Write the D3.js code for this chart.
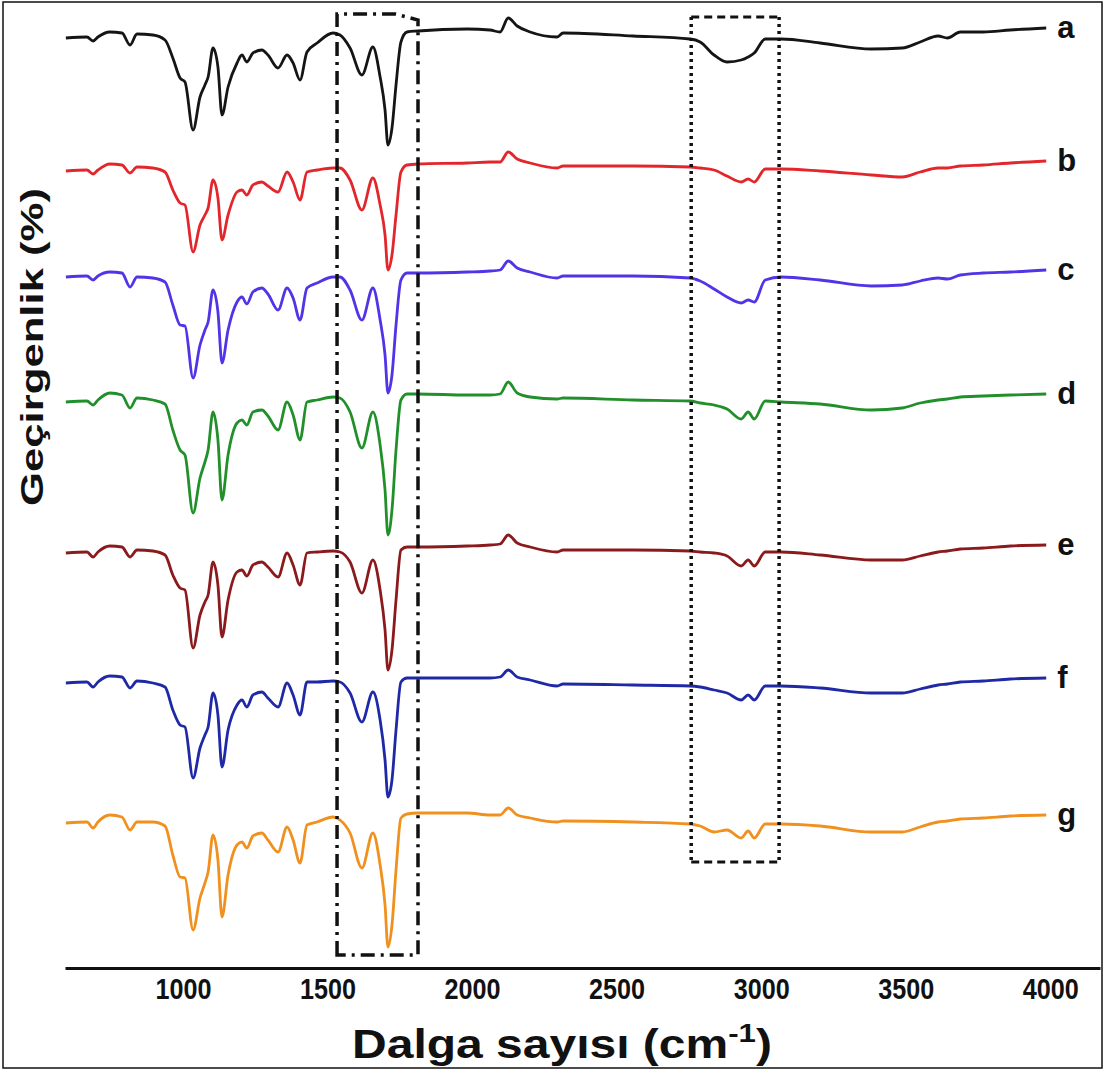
<!DOCTYPE html>
<html>
<head>
<meta charset="utf-8">
<script src="https://cdn.jsdelivr.net/npm/d3@7/dist/d3.min.js"></script>
<style>
  body { margin: 0; background: #fff; }
  svg { display: block; }
</style>
</head>
<body>
<div id="chart"></div>
<script>
// Wavenumbers (cm-1) shared by every spectrum
var waves = [595, 668, 689, 706, 747, 789, 817, 841, 896, 938,
  965, 990, 1007, 1035, 1059, 1076, 1087, 1104, 1121, 1135,
  1156, 1187, 1204, 1221, 1242, 1273, 1294, 1329, 1360, 1381,
  1405, 1429, 1464, 1519, 1543, 1578, 1619, 1657, 1682, 1699,
  1709, 1723, 1737, 1754, 1775, 1813, 1983, 2062, 2097, 2125,
  2156, 2201, 2294, 2315, 2557, 2754, 2789, 2837, 2882, 2931,
  2955, 2976, 3014, 3069, 3204, 3381, 3488, 3550, 3612, 3644,
  3689, 3768, 3862, 3986];

// Transmittance (stacked, arbitrary offset)
var seriesA = [96.2, 96.3, 95.9, 96.3, 96.8, 96.7, 95.5, 96.6, 96.5, 96.0,
  94.2, 92.2, 91.8, 87.0, 90.3, 91.5, 92.3, 95.2, 93.3, 88.5,
  91.3, 93.7, 94.5, 93.8, 94.7, 95.0, 94.5, 93.2, 94.5, 93.7,
  92.0, 94.8, 95.7, 96.7, 96.5, 95.2, 92.5, 95.3, 92.3, 89.0,
  85.5, 87.2, 91.5, 95.8, 96.8, 96.9, 97.1, 97.0, 96.8, 98.2,
  97.4, 96.8, 96.3, 96.7, 96.4, 96.1, 95.8, 94.5, 93.8, 94.0,
  94.3, 94.7, 96.1, 96.1, 95.7, 95.1, 95.2, 95.8, 96.4, 96.2,
  96.8, 96.8, 97.0, 97.2];
var seriesB = [82.9, 83.0, 82.6, 83.0, 83.6, 83.5, 82.7, 83.3, 83.2, 82.8,
  81.0, 79.7, 79.5, 74.8, 77.5, 78.5, 79.2, 82.0, 80.2, 76.0,
  78.5, 80.8, 81.0, 80.5, 81.5, 81.8, 81.4, 80.8, 82.8, 81.8,
  80.0, 82.8, 83.0, 83.2, 83.2, 82.0, 79.0, 82.2, 79.5, 76.5,
  73.0, 74.5, 78.5, 82.8, 83.5, 83.6, 83.7, 83.8, 83.8, 84.8,
  84.1, 83.7, 83.2, 83.4, 83.4, 83.3, 83.2, 83.0, 82.4, 81.8,
  82.1, 81.8, 83.1, 83.1, 82.9, 82.5, 82.3, 82.8, 83.2, 83.2,
  83.4, 83.5, 83.7, 83.9];
var seriesC = [72.3, 72.4, 72.0, 72.4, 72.8, 72.7, 71.3, 72.3, 72.2, 71.8,
  69.5, 67.5, 67.4, 62.2, 65.5, 67.0, 67.8, 71.0, 68.8, 63.7,
  67.0, 69.8, 70.3, 69.6, 70.8, 71.2, 70.6, 69.0, 71.2, 70.2,
  68.0, 71.2, 71.7, 72.3, 72.3, 71.0, 68.0, 71.2, 68.0, 64.5,
  60.7, 62.5, 67.5, 72.0, 72.7, 72.7, 72.8, 72.9, 73.0, 73.9,
  73.2, 72.8, 72.2, 72.4, 72.4, 72.2, 71.9, 71.1, 70.3, 69.7,
  70.0, 69.8, 72.0, 72.3, 72.0, 71.4, 71.5, 71.9, 72.2, 72.1,
  72.5, 72.7, 72.8, 73.0];
var seriesD = [59.8, 59.9, 59.5, 60.0, 60.7, 60.5, 59.2, 60.2, 60.0, 59.6,
  57.0, 55.0, 54.5, 48.7, 52.2, 53.8, 55.0, 58.8, 56.0, 50.0,
  54.5, 57.7, 58.0, 57.5, 58.8, 59.0, 58.4, 57.0, 59.8, 58.5,
  56.0, 59.8, 60.0, 60.3, 60.2, 58.8, 55.2, 58.8, 55.5, 51.0,
  46.5, 49.0, 55.0, 60.0, 60.6, 60.6, 60.5, 60.5, 60.6, 61.8,
  60.7, 60.3, 60.1, 60.2, 60.0, 59.9, 59.7, 59.5, 59.1, 58.1,
  58.8, 58.1, 59.9, 59.8, 59.6, 59.0, 59.2, 59.7, 60.0, 60.1,
  60.3, 60.4, 60.5, 60.6];
var seriesE = [44.7, 44.8, 44.3, 44.8, 45.4, 45.3, 44.3, 45.0, 44.9, 44.5,
  42.5, 41.2, 41.0, 35.2, 38.5, 39.8, 40.5, 43.8, 41.5, 36.3,
  40.0, 42.8, 43.0, 42.4, 43.5, 43.8, 43.3, 42.3, 44.7, 43.5,
  41.5, 44.7, 44.8, 44.9, 44.8, 43.8, 40.7, 44.0, 41.0, 37.0,
  33.0, 35.0, 40.0, 45.0, 45.3, 45.3, 45.4, 45.5, 45.6, 46.5,
  45.7, 45.3, 44.8, 45.0, 45.0, 44.9, 44.8, 44.7, 44.4, 43.4,
  44.0, 43.4, 44.8, 44.8, 44.5, 44.0, 44.0, 44.4, 44.8, 44.9,
  45.1, 45.2, 45.4, 45.5];
var seriesF = [31.7, 31.8, 31.3, 31.8, 32.4, 32.3, 31.2, 31.9, 31.7, 31.3,
  29.0, 27.5, 27.3, 22.2, 25.2, 26.5, 27.3, 30.7, 28.5, 23.3,
  27.0, 29.5, 30.0, 29.3, 30.5, 30.8, 30.2, 29.3, 31.7, 30.5,
  28.5, 31.8, 31.8, 31.9, 31.8, 30.7, 27.8, 30.8, 28.0, 24.0,
  20.3, 22.0, 27.0, 31.8, 32.2, 32.2, 32.2, 32.2, 32.3, 33.0,
  32.3, 32.0, 31.4, 31.6, 31.5, 31.4, 31.3, 31.0, 30.7, 30.0,
  30.5, 30.0, 31.4, 31.4, 31.2, 30.7, 30.7, 31.1, 31.5, 31.6,
  31.8, 31.9, 32.1, 32.2];
var seriesG = [17.7, 17.8, 17.2, 17.8, 18.5, 18.3, 17.0, 17.8, 17.8, 17.4,
  14.5, 12.3, 12.2, 7.0, 10.2, 11.7, 12.8, 16.5, 14.0, 8.3,
  12.5, 15.5, 15.8, 15.2, 16.4, 16.7, 16.0, 14.8, 17.3, 16.0,
  13.7, 17.5, 17.8, 18.3, 18.0, 16.7, 13.2, 16.7, 13.5, 9.5,
  5.3, 7.5, 13.0, 18.2, 18.6, 18.7, 18.7, 18.5, 18.5, 19.2,
  18.5, 18.2, 17.8, 17.9, 17.8, 17.6, 17.4, 16.8, 17.0, 16.2,
  16.9, 16.2, 17.6, 17.6, 17.4, 16.8, 16.8, 17.3, 17.8, 17.9,
  18.1, 18.2, 18.4, 18.5];

var seriesNames = ["a", "b", "c", "d", "e", "f", "g"];
var seriesColors = ["#151515", "#e3262b", "#5034e8", "#22902a", "#8b1a1c", "#1f29a6", "#f0901e"];
var allSeries = [seriesA, seriesB, seriesC, seriesD, seriesE, seriesF, seriesG];

var tickValues = [1000, 1500, 2000, 2500, 3000, 3500, 4000];

// Highlight boxes: [wave start, wave end, bottom, top]
var dashDotBox = [1533, 1813, 4.5, 98.6];
var dottedBox = [2758, 3062, 13.8, 98.3];

var width = 1104, height = 1072;

var svg = d3.select('#chart')
  .append('svg')
    .attr('width', width)
    .attr('height', height);

svg.append("rect")
  .attr("width", width).attr("height", height)
  .attr("fill", "#fff");

// outer frame of the figure
svg.append("rect")
  .attr("x", 3).attr("y", 2)
  .attr("width", 1099).attr("height", 1066)
  .attr("fill", "none")
  .attr("stroke", "#111")
  .attr("stroke-width", 1.5);

// Scales
var x = d3.scaleLinear()
  .domain([592, 4172])
  .range([65, 1100]);

var y = d3.scaleLinear()
  .domain([0, 100])
  .range([1000, 0]);

var axisY = 968;

// Spectra
var line = d3.line()
  .x(d => x(d.w))
  .y(d => y(d.v))
  .curve(d3.curveMonotoneX);

allSeries.forEach(function(vals, i) {
  var data = waves.map((w, j) => ({w: w, v: vals[j]}));
  svg.append("path")
    .datum(data)
    .attr("fill", "none")
    .attr("stroke", seriesColors[i])
    .attr("stroke-width", 2.8)
    .attr("stroke-linejoin", "round")
    .attr("d", line);

  var last = data[data.length - 1];
  svg.append("text")
    .attr("x", x(last.w) + 11)
    .attr("y", y(last.v) + 10)
    .style("font-family", "'Liberation Sans', Arial, sans-serif")
    .style("font-weight", "bold")
    .style("font-size", "31px")
    .attr("fill", "#111")
    .text(seriesNames[i]);
});

// Dash-dot box around the carbonyl band
var bx0 = x(dashDotBox[0]), bx1 = x(dashDotBox[1]);
var byB = y(dashDotBox[2]), byT = y(dashDotBox[3]);
svg.append("path")
  .attr("d", `M${bx0},${byB} V${byT} H${bx1 - 23} L${bx1},${byT + 6} V${byB} Z`)
  .attr("fill", "none")
  .attr("stroke", "#111")
  .attr("stroke-width", 3.5)
  .attr("stroke-dasharray", "14,6,3,6");

// Dotted box around the C-H band
var dx0 = x(dottedBox[0]), dx1 = x(dottedBox[1]);
var dyB = y(dottedBox[2]), dyT = y(dottedBox[3]);
svg.append("path")
  .attr("d", `M${dx0},${dyT} V${dyB} M${dx1},${dyT} V${dyB}`)
  .attr("stroke", "#111")
  .attr("stroke-width", 3.5)
  .attr("stroke-dasharray", "3,4");
svg.append("path")
  .attr("d", `M${dx0},${dyT} H${dx1} M${dx0},${dyB} H${dx1}`)
  .attr("stroke", "#111")
  .attr("stroke-width", 3)
  .attr("stroke-dasharray", "8,5");

// X axis
var xAxis = svg.append("g")
  .attr("class", "x-axis")
  .attr("transform", `translate(0,${axisY})`)
  .call(d3.axisBottom(x)
    .tickValues(tickValues)
    .tickFormat(d3.format("d"))
    .tickSize(0)
    .tickSizeOuter(0)
    .tickPadding(10));

xAxis.select(".domain")
  .attr("stroke", "#111")
  .attr("stroke-width", 3);

xAxis.selectAll(".tick text")
  .attr("fill", "#111")
  .style("font-family", "'Liberation Sans', Arial, sans-serif")
  .style("font-weight", "bold")
  .style("font-size", "30px")
  .attr("textLength", 56)
  .attr("lengthAdjust", "spacingAndGlyphs");

// Axis titles
var xTitle = svg.append("text")
  .attr("transform", "translate(562,1058) scale(1.2,1)")
  .attr("text-anchor", "middle")
  .style("font-family", "'Liberation Sans', Arial, sans-serif")
  .style("font-weight", "bold")
  .style("font-size", "40px")
  .attr("fill", "#111");
xTitle.append("tspan").text("Dalga sayısı (cm");
xTitle.append("tspan").attr("dy", -16).style("font-size", "26px").text("-1");
xTitle.append("tspan").attr("dy", 16).text(")");

svg.append("text")
  .attr("transform", "translate(43,347) rotate(-90)")
  .attr("text-anchor", "middle")
  .style("font-family", "'Liberation Sans', Arial, sans-serif")
  .style("font-weight", "bold")
  .style("font-size", "32px")
  .attr("fill", "#111")
  .attr("textLength", 318)
  .attr("lengthAdjust", "spacingAndGlyphs")
  .text("Geçirgenlik (%)");
</script>
</body>
</html>
